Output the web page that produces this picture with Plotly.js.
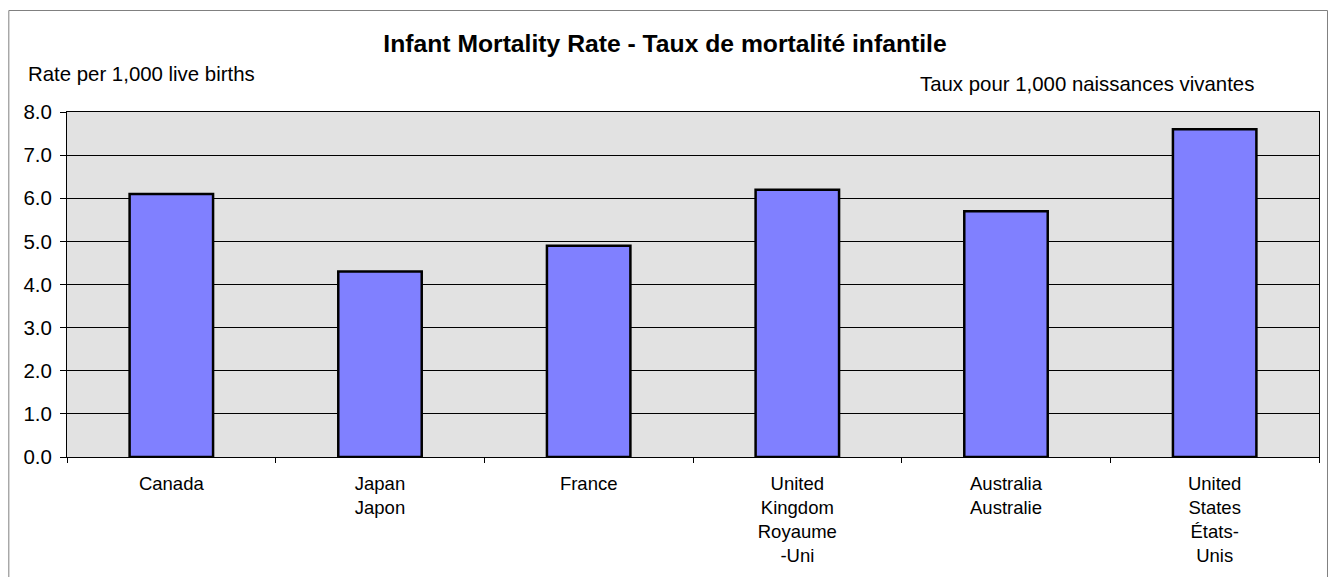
<!DOCTYPE html>
<html>
<head>
<meta charset="utf-8">
<script src="https://cdn.plot.ly/plotly-3.0.1.min.js"></script>
<style>html,body{margin:0;padding:0;background:#fff;}#chart{width:1330px;height:577px;}</style>
</head>
<body>
<div id="chart"></div>
<script>
const categories = ["Canada", "Japan<br>Japon", "France", "United<br>Kingdom<br>Royaume<br>-Uni", "Australia<br>Australie", "United<br>States<br>États-<br>Unis"];
const values = [6.1, 4.3, 4.9, 6.2, 5.7, 7.6];
const yTicks = [0, 1, 2, 3, 4, 5, 6, 7, 8];
const chartTitle = "Infant Mortality Rate - Taux de mortalité infantile";
const leftLabel = "Rate per 1,000 live births";
const rightLabel = "Taux pour 1,000 naissances vivantes";

const W = 1330, H = 577, L = 66.7, R = 11, T = 112, B = 120;
const pw = W - L - R, ph = H - T - B;
const px = p => (p - L) / pw;
const py = p => (H - B - p) / ph;
const FONT = '"Liberation Sans", Arial, sans-serif';

const boundaries = [];
for (let i = 0; i <= categories.length; i++) boundaries.push(i - 0.5);

const trace = {
  type: 'bar',
  x: categories,
  y: values,
  marker: {color: '#8080FF', line: {color: '#000', width: 2.5}},
  hoverinfo: 'x+y'
};

const layout = {
  width: W, height: H,
  margin: {l: L, r: R, t: T, b: B, pad: 0},
  paper_bgcolor: '#fff',
  plot_bgcolor: '#E2E2E2',
  showlegend: false,
  bargap: 0.6,
  font: {family: FONT, color: '#000'},
  title: {text: '<b>' + chartTitle + '</b>', font: {family: FONT, size: 24.7, color: '#000'},
          x: 0.5, xref: 'container', xanchor: 'center', y: 1 - 43 / H, yref: 'container', yanchor: 'middle'},
  xaxis: {
    type: 'category', tickson: 'boundaries', ticks: 'outside', ticklen: 5, tickcolor: '#000', tickwidth: 1,
    showline: true, linecolor: '#000', linewidth: 1, mirror: true,
    showgrid: false, zeroline: false,
    tickfont: {family: FONT, size: 18.5, color: '#000'},
    ticklabelstandoff: 10,
    range: [-0.5, categories.length - 0.5], fixedrange: true
  },
  xaxis2: {
    overlaying: 'x', anchor: 'y', type: 'linear',
    range: [-0.5, categories.length - 0.5],
    tickmode: 'array', tickvals: boundaries, ticks: 'inside', ticklen: 6, tickcolor: '#000', tickwidth: 1,
    showticklabels: false, showgrid: false, zeroline: false, showline: false, side: 'bottom'
  },
  yaxis: {
    range: [0, 8], tickmode: 'array', tickvals: yTicks, tickformat: '.1f',
    ticks: 'outside', ticklen: 6, tickcolor: '#000', tickwidth: 1,
    showline: true, linecolor: '#000', linewidth: 1, mirror: true,
    showgrid: true, gridcolor: '#000', gridwidth: 1, zeroline: false,
    tickfont: {family: FONT, size: 20.5, color: '#000'},
    ticklabelstandoff: 4, fixedrange: true
  },
  annotations: [
    {text: leftLabel, xref: 'paper', yref: 'paper', x: px(26), y: py(74), xanchor: 'left', yanchor: 'middle',
     showarrow: false, font: {family: FONT, size: 20.4, color: '#000'}},
    {text: rightLabel, xref: 'paper', yref: 'paper', x: px(1256), y: py(84), xanchor: 'right', yanchor: 'middle',
     showarrow: false, font: {family: FONT, size: 20.4, color: '#000'}}
  ],
  shapes: [
    {type: 'rect', xref: 'paper', yref: 'paper', x0: px(8.5), x1: px(1327.5), y0: py(600), y1: py(10.5),
     line: {color: '#808080', width: 1}, fillcolor: 'rgba(0,0,0,0)', layer: 'below'}
  ]
};

Plotly.newPlot('chart', [trace], layout, {displayModeBar: false, staticPlot: true});
</script>
</body>
</html>
